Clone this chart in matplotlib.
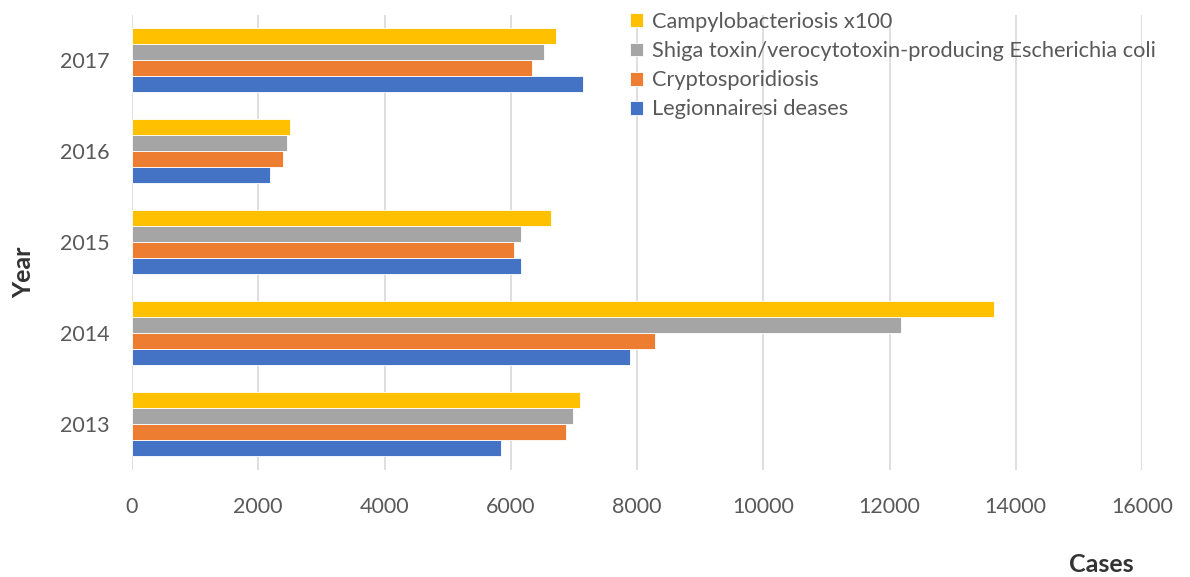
import matplotlib
matplotlib.use("Agg")
import matplotlib.pyplot as plt
import numpy as np

years = ["2013", "2014", "2015", "2016", "2017"]
legionnaires = [5846, 7886, 6165, 2190, 7145]
cryptosporidiosis = [6879, 8287, 6058, 2396, 6344]
stec = [6992, 12180, 6165, 2450, 6532]
campylobacteriosis_x100 = [7092, 13660, 6638, 2505, 6715]

series = [
    ("Legionnairesi deases", legionnaires, "#4472C4"),
    ("Cryptosporidiosis", cryptosporidiosis, "#ED7D31"),
    ("Shiga toxin/verocytotoxin-producing Escherichia coli", stec, "#A5A5A5"),
    ("Campylobacteriosis x100", campylobacteriosis_x100, "#FFC000"),
]

plt.rcParams['font.family'] = ['Lato', 'DejaVu Sans']

fig = plt.figure(figsize=(11.9, 5.77), dpi=100)
ax = fig.add_axes([132/1190, 1 - 469.5/577, (1142-132)/1190, (469.5-14.5)/577])

y = np.arange(len(years))
h = 0.175
handles = []
for i, (name, vals, col) in enumerate(series):
    off = (i - 1.5) * h
    b = ax.barh(y + off, vals, height=h, color=col, edgecolor="white", linewidth=0.6, label=name, zorder=3)
    handles.append(b)

ax.set_xlim(0, 16000)
ax.set_ylim(-0.5, len(years) - 0.5)
ax.set_xticks(np.arange(0, 16001, 2000))
ax.set_yticks(y)
ax.set_yticklabels(years)
ax.tick_params(axis='both', length=0, labelsize=15.5, colors="#595959")
ax.tick_params(axis='x', pad=20)
ax.tick_params(axis='y', pad=16)
ax.grid(axis='x', color="#D9D9D9", linewidth=1.2, zorder=0)
for s in ax.spines.values():
    s.set_visible(False)

fig.text(24/1190, 1 - 272/577, "Year", rotation=90, ha='center', va='center',
         fontsize=18, fontweight='bold', color="#333333")
fig.text(1101/1190, 1 - 565/577, "Cases", ha='center', va='center',
         fontsize=18, fontweight='bold', color="#333333")

leg = fig.legend(handles[::-1], [s[0] for s in series][::-1], loc='upper left',
                 bbox_to_anchor=(630/1190, 1 - 12/577), frameon=False, fontsize=15.7,
                 handlelength=0.6, handleheight=0.6, handletextpad=0.4,
                 labelspacing=0.42, borderaxespad=0, borderpad=0)
for t in leg.get_texts():
    t.set_color("#595959")

fig.savefig("out.png", dpi=100)
